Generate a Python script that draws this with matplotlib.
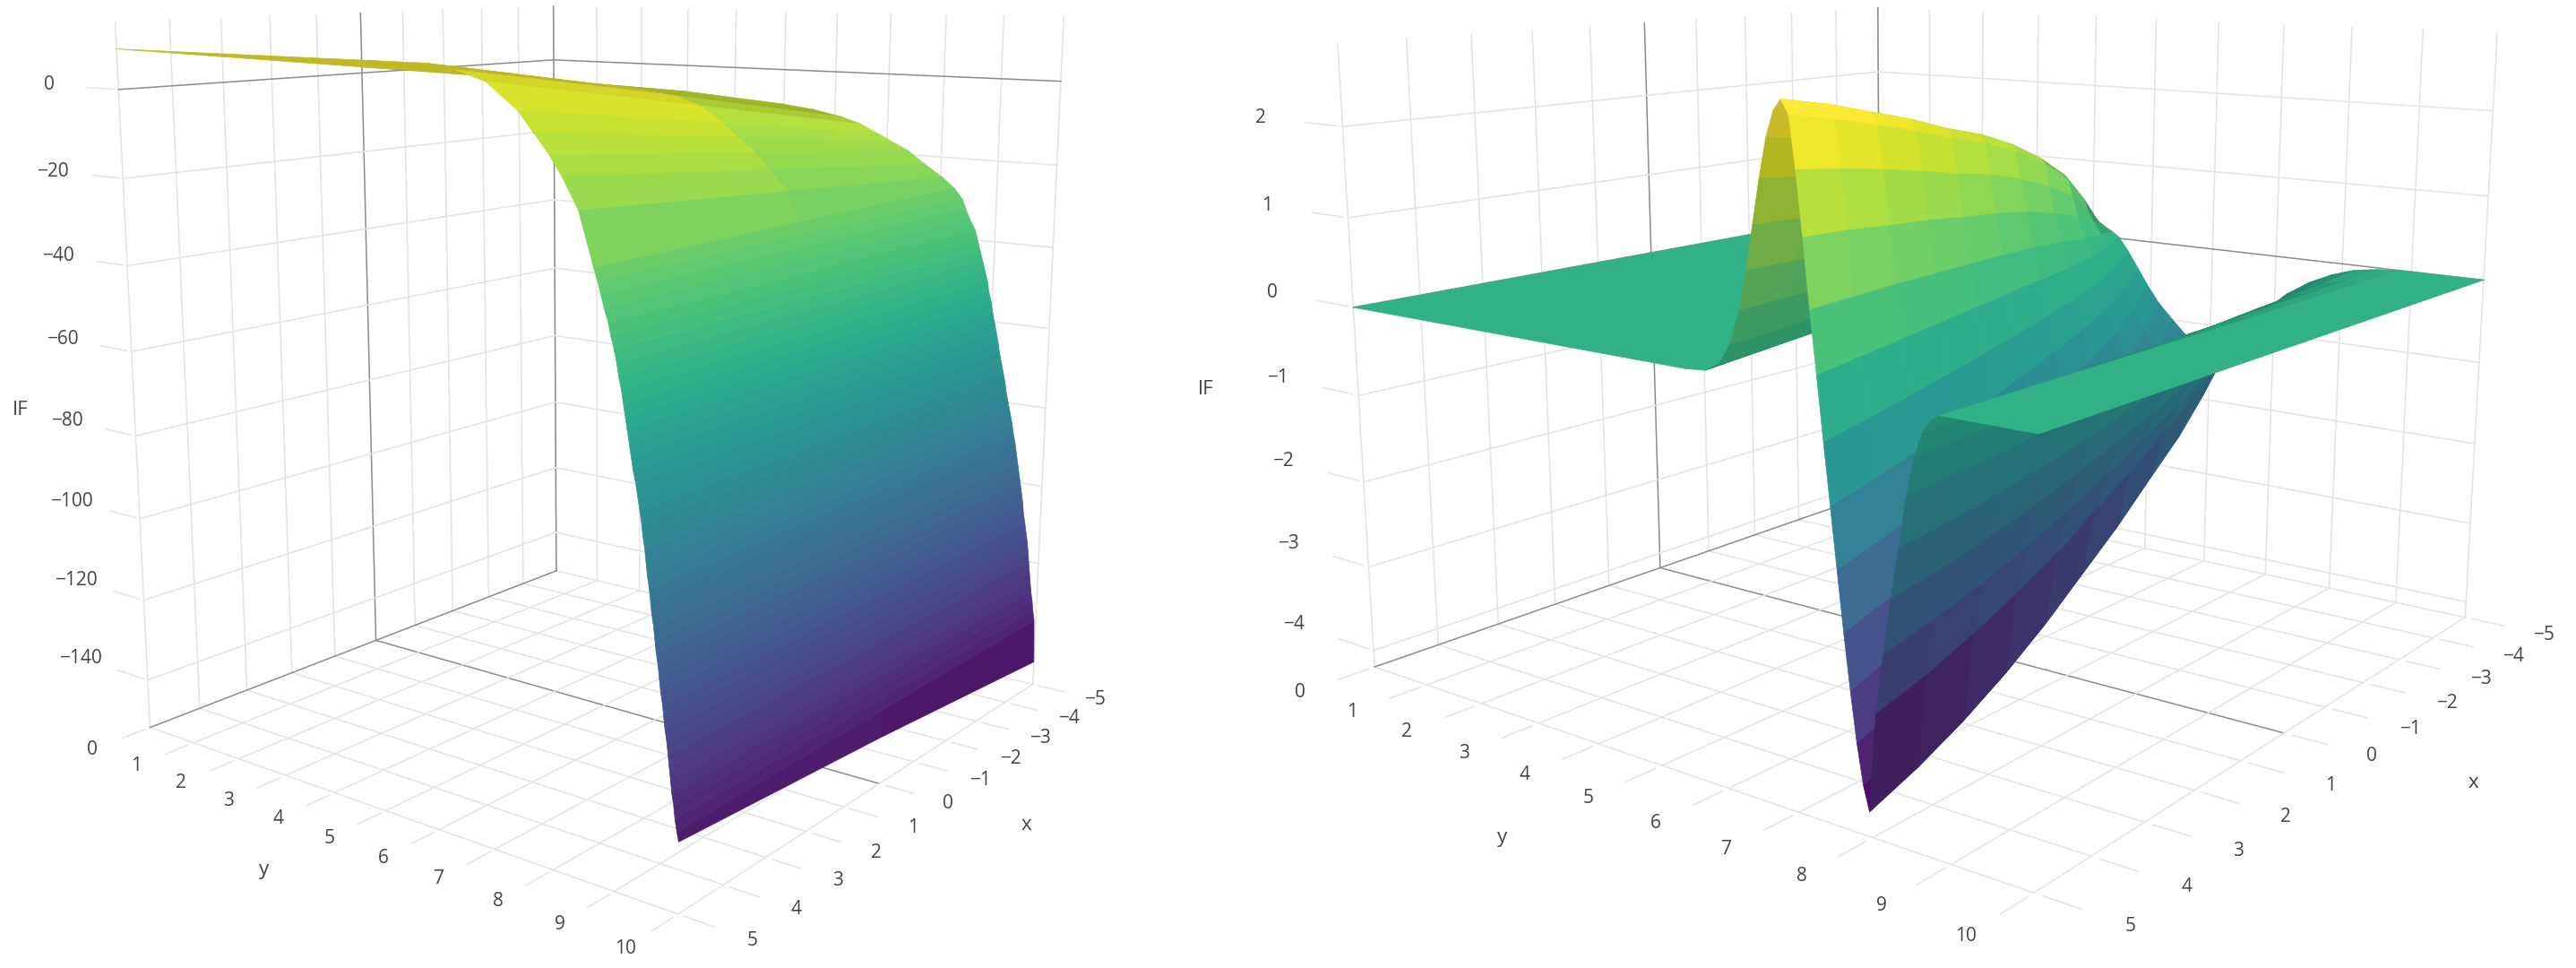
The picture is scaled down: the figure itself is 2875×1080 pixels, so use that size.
import numpy as np
import matplotlib
matplotlib.use("Agg")
import matplotlib.pyplot as plt

plt.rcParams['font.family'] = ['Open Sans', 'DejaVu Sans']

W, H = 2875, 1080
GRID = '#e4e4e4'
ZERO = '#8c8c8c'
TEXT = '#444444'

x_ticks = [-5, -4, -3, -2, -1, 0, 1, 2, 3, 4, 5]
y_ticks = [0, 1, 2, 3, 4, 5, 6, 7, 8, 9, 10]

# left surface: each row runs along x=5, 0, -5 and follows a height contour once the sheet falls away
left_x = [5, 0, -5]
left_y = [
    [0, 0, 0], [3, 3, 3], [5, 5, 5], [6.0, 5.7, 5.6], [6.5, 6.3, 6.15], [7.0, 6.75, 6.5], [7.5, 7.15, 6.8],
    [7.75, 7.4, 7.1], [8.0, 7.7, 7.4], [8.2, 7.95, 7.7], [8.45, 8.25, 8.03], [8.68, 8.46, 8.25],
    [8.74, 8.57, 8.4], [8.79, 8.63, 8.47], [8.84, 8.7, 8.55], [8.9, 8.78, 8.65], [8.94, 8.82, 8.7],
    [8.99, 8.87, 8.75], [9.03, 8.92, 8.8], [9.06, 8.96, 8.85], [9.1, 9.0, 8.9], [9.13, 9.03, 8.93],
    [9.16, 9.07, 8.98], [9.19, 9.1, 9.01], [9.22, 9.14, 9.05], [9.25, 9.17, 9.09], [9.28, 9.2, 9.13],
    [9.32, 9.24, 9.16], [9.35, 9.27, 9.2], [9.38, 9.31, 9.24], [9.41, 9.34, 9.28], [9.43, 9.37, 9.31],
    [9.46, 9.4, 9.35], [9.48, 9.43, 9.39], [9.5, 9.46, 9.43], [9.53, 9.49, 9.46], [9.55, 9.52, 9.5],
    [9.57, 9.55, 9.53], [9.6, 9.58, 9.56], [9.62, 9.6, 9.59], [9.64, 9.63, 9.62], [9.67, 9.66, 9.65],
    [9.69, 9.68, 9.68], [9.71, 9.7, 9.7], [9.74, 9.73, 9.73], [9.76, 9.76, 9.76], [9.78, 9.78, 9.79],
    [9.81, 9.81, 9.81], [9.83, 9.83, 9.83], [9.85, 9.85, 9.85], [9.87, 9.87, 9.87], [9.89, 9.89, 9.89],
    [9.92, 9.92, 9.92], [9.94, 9.94, 9.94], [9.97, 9.97, 9.97], [10, 10, 10],
]
left_z = [
    [9, 1.5, -6], [9, 1, -7], [9, 0, -9], [9, -0.5, -10], [8, -1.5, -11.5], [6, -3.5, -13], [1, -7, -15],
    [-3, -10, -17], [-7, -13, -19], [-11, -16.5, -22], [-17, -21, -25], [-27.5, -27.5, -27.5],
    [-30, -30, -30], [-32.5, -32.5, -32.5], [-35, -35, -35], [-37.5, -37.5, -37.5], [-40, -40, -40],
    [-42.5, -42.5, -42.5], [-45, -45, -45], [-47.5, -47.5, -47.5], [-50, -50, -50], [-52.5, -52.5, -52.5],
    [-55, -55, -55], [-57.5, -57.5, -57.5], [-60, -60, -60], [-62.5, -62.5, -62.5], [-65, -65, -65],
    [-67.5, -67.5, -67.5], [-70, -70, -70], [-72.5, -72.5, -72.5], [-75, -75, -75], [-77.5, -77.5, -77.5],
    [-80, -80, -80], [-82.5, -82.5, -82.5], [-85, -85, -85], [-87.5, -87.5, -87.5], [-90, -90, -90],
    [-92.5, -92.5, -92.5], [-95, -95, -95], [-97.5, -97.5, -97.5], [-100, -100, -100], [-102.5, -102.5, -102.5],
    [-105, -105, -105], [-107.5, -107.5, -107.5], [-110, -110, -110], [-112.5, -112.5, -112.5], [-115, -115, -115],
    [-117.5, -117.5, -117.5], [-120, -120, -120], [-122.5, -122.5, -122.5], [-125, -125, -125],
    [-127.5, -127.5, -127.5], [-130, -130, -130], [-132.5, -132.5, -132.5], [-135, -135, -135], [-137, -141, -146],
]
left_z_ticks = [-140, -120, -100, -80, -60, -40, -20, 0]

# right surface, the wave sits at lower y as x falls
right_x = [5, 4, 3, 2, 1, 0, -1, -2, -3, -4, -5]
right_y_shift = [0, 0.25, 0.5, 0.75, 1.0, 1.25, 1.5, 1.75, 2.05, 2.45, 2.9]
right_y = [0, 2.5, 5.5, 5.8, 6.0, 6.15, 6.3, 6.4, 6.5, 6.6, 6.7, 6.8, 6.9,
           7.0, 7.08, 7.16, 7.24, 7.32, 7.4, 7.48, 7.56, 7.64, 7.72, 7.8, 7.88, 7.96,
           8.05, 8.15, 8.25, 8.35, 8.45, 8.55, 8.65, 8.75, 8.85, 10]
right_y_slant = [0, 0.3, 0.6, 0.7, 0.76, 0.8, 0.84, 0.86, 0.88, 0.91, 0.94, 0.97, 1.0,
                 1.02, 1.03, 1.02, 1.0, 0.99, 0.96, 0.93, 0.9, 0.86, 0.81, 0.76, 0.71, 0.6,
                 0.55, 0.5, 0.45, 0.4, 0.32, 0.24, 0.16, 0.08, 0, 0]
right_z = [
    [0, 0, 0, 0, 0, 0, 0, 0, 0, 0, 0],
    [0, 0, 0, 0, 0, 0, 0, 0, 0, 0, 0],
    [0, 0, 0, 0, 0, 0, 0, 0, 0, 0, 0],
    [.02, .02, .02, .02, .02, .01, .01, .01, .01, .01, 0],
    [.11, .10, .10, .09, .08, .08, .07, .06, .04, .03, .01],
    [.31, .29, .28, .26, .24, .22, .19, .16, .12, .08, .03],
    [.66, .63, .59, .55, .50, .46, .41, .34, .26, .17, .07],
    [1.05, 1.00, .93, .87, .80, .74, .65, .55, .42, .26, .11],
    [1.49, 1.42, 1.33, 1.24, 1.13, 1.04, .92, .77, .60, .37, .15],
    [1.93, 1.83, 1.72, 1.60, 1.47, 1.35, 1.20, 1.00, .77, .48, .19],
    [2.31, 2.19, 2.06, 1.92, 1.76, 1.62, 1.43, 1.20, .92, .58, .23],
    [2.55, 2.42, 2.27, 2.12, 1.94, 1.79, 1.58, 1.33, 1.02, .64, .26],
    [2.66, 2.53, 2.37, 2.21, 2.02, 1.86, 1.65, 1.38, 1.06, .67, .27],
    [2.53, 2.40, 2.25, 2.10, 1.92, 1.77, 1.57, 1.32, 1.01, .63, .25],
    [2.04, 1.94, 1.82, 1.69, 1.55, 1.43, 1.26, 1.06, .82, .51, .20],
    [1.43, 1.36, 1.27, 1.19, 1.09, 1.00, .89, .74, .57, .36, .14],
    [.77, .73, .69, .64, .59, .54, .48, .40, .31, .19, .08],
    [.17, .16, .15, .14, .13, .12, .11, .09, .07, .04, .02],
    [-.45, -.44, -.42, -.40, -.37, -.34, -.30, -.26, -.23, -.19, -.16],
    [-1.05, -1.02, -.98, -.93, -.86, -.78, -.70, -.61, -.53, -.45, -.37],
    [-1.65, -1.61, -1.55, -1.46, -1.36, -1.23, -1.11, -.96, -.83, -.71, -.58],
    [-2.25, -2.19, -2.11, -1.99, -1.85, -1.68, -1.51, -1.31, -1.14, -.97, -.80],
    [-2.80, -2.73, -2.62, -2.48, -2.30, -2.09, -1.88, -1.63, -1.42, -1.20, -.99],
    [-3.30, -3.22, -3.09, -2.92, -2.72, -2.47, -2.21, -1.92, -1.67, -1.42, -1.17],
    [-3.70, -3.61, -3.47, -3.28, -3.05, -2.76, -2.48, -2.15, -1.87, -1.59, -1.31],
    [-3.95, -3.85, -3.70, -3.50, -3.25, -2.95, -2.65, -2.30, -2.00, -1.70, -1.40],
    [-2.95, -2.88, -2.76, -2.61, -2.43, -2.20, -1.98, -1.72, -1.49, -1.27, -1.04],
    [-2.35, -2.29, -2.20, -2.08, -1.93, -1.76, -1.58, -1.37, -1.19, -1.01, -.83],
    [-1.80, -1.76, -1.69, -1.59, -1.48, -1.34, -1.21, -1.05, -.91, -.77, -.64],
    [-1.30, -1.27, -1.22, -1.15, -1.07, -.97, -.87, -.76, -.66, -.56, -.46],
    [-.80, -.78, -.75, -.71, -.66, -.60, -.54, -.47, -.40, -.34, -.28],
    [-.42, -.41, -.39, -.37, -.35, -.31, -.28, -.24, -.21, -.18, -.15],
    [-.18, -.18, -.17, -.16, -.15, -.13, -.12, -.10, -.09, -.08, -.06],
    [-.06, -.06, -.06, -.05, -.05, -.04, -.04, -.03, -.03, -.03, -.02],
    [0, 0, 0, 0, 0, 0, 0, 0, 0, 0, 0],
    [0, 0, 0, 0, 0, 0, 0, 0, 0, 0, 0],
]
right_z_ticks = [-4, -3, -2, -1, 0, 1, 2]


def facet_colors(X, Y, Z, zlim, crange, eye, zasp):
    # colour by height, a bit lighter in general, darker the more the cell turns away from the eye
    px = (X + 5) / 10
    py = Y / 10
    pz = zasp * (Z - zlim[0]) / (zlim[1] - zlim[0])
    d1 = np.stack([px[1:, 1:] - px[:-1, :-1], py[1:, 1:] - py[:-1, :-1], pz[1:, 1:] - pz[:-1, :-1]], -1)
    d2 = np.stack([px[1:, :-1] - px[:-1, 1:], py[1:, :-1] - py[:-1, 1:], pz[1:, :-1] - pz[:-1, 1:]], -1)
    n = np.cross(d1, d2)
    n[n[..., 2] < 0] *= -1
    n /= np.linalg.norm(n, axis=-1, keepdims=True)
    centre = np.stack([(px[1:, 1:] + px[:-1, :-1]) / 2, (py[1:, 1:] + py[:-1, :-1]) / 2,
                       (pz[1:, 1:] + pz[:-1, :-1]) / 2], -1)
    view = np.array(eye) - centre
    view /= np.linalg.norm(view, axis=-1, keepdims=True)
    facing = (view * n).sum(-1)
    zmid = (Z[1:, 1:] + Z[:-1, :-1] + Z[1:, :-1] + Z[:-1, 1:]) / 4
    rgba = plt.cm.viridis((zmid - crange[0]) / (crange[1] - crange[0]))
    lit = rgba[..., :3] + 0.12 * rgba[..., :3].mean(-1, keepdims=True) * (1 - rgba[..., :3])
    dark = 1 - 0.2 * np.clip((0.16 - facing) / 0.1, 0, 1)
    rgba[..., :3] = lit * dark[..., None]
    return rgba


def draw_panel(centre, size, elev, azim, focal, zasp, X, Y, Z, zlim, crange, wall_top, z_ticks, z_rot, if_y, if_z):
    rect = [(centre[0] - size / 2) / W, (H - centre[1] - size / 2) / H, size / W, size / H]
    ax = fig.add_axes(rect, projection='3d', computed_zorder=False)
    ax.set_proj_type('persp', focal_length=focal)
    ax.set_box_aspect((1, 1, zasp))
    ax.view_init(elev=elev, azim=azim)
    ax.set_xlim(-5, 5, view_margin=0)
    ax.set_ylim(0, 10, view_margin=0)
    ax.set_zlim(zlim[0], zlim[1], view_margin=0)
    ax.set_axis_off()
    ax.patch.set_alpha(0)

    z0 = zlim[0]
    for v in x_ticks:
        c = ZERO if v == 0 else GRID
        ax.plot([v, v], [0, 10], [z0, z0], color=c, lw=1.1, zorder=1)
        ax.plot([v, v], [0, 0], [z0, wall_top], color=c, lw=1.1, zorder=1)
        ax.plot([v, v], [10.1, 10.55], [z0, z0], color=GRID, lw=1.1, zorder=1)
    for v in y_ticks:
        c = ZERO if v == 0 else GRID
        ax.plot([-5, 5], [v, v], [z0, z0], color=c, lw=1.1, zorder=1)
        ax.plot([-5, -5], [v, v], [z0, wall_top], color=c, lw=1.1, zorder=1)
        ax.plot([5.1, 5.55], [v, v], [z0, z0], color=GRID, lw=1.1, zorder=1)
    for v in z_ticks:
        c = ZERO if v == 0 else GRID
        ax.plot([-5, 5], [0, 0], [v, v], color=c, lw=1.1, zorder=1)
        ax.plot([-5, -5], [0, 10], [v, v], color=c, lw=1.1, zorder=1)
        ax.plot([5, 5], [-0.1, -0.7], [v, v], color=GRID, lw=1.1, zorder=1)

    side = 1.8294640721620434 * 25 / 24 / np.linalg.norm((1, 1, zasp))
    eye_dist = 10 * focal / side
    el, az = np.radians(elev), np.radians(azim)
    eye = (0.5 + eye_dist * np.cos(el) * np.cos(az), 0.5 + eye_dist * np.cos(el) * np.sin(az),
           zasp / 2 + eye_dist * np.sin(el))
    ax.plot_surface(X, Y, Z, facecolors=facet_colors(X, Y, Z, zlim, crange, eye, zasp), rstride=1, cstride=1,
                    shade=False, linewidth=0.5, antialiased=True, zorder=2)

    fs = 15
    for i, v in enumerate(y_ticks):
        ax.text(6.1, v, z0, str(v), color=TEXT, fontsize=fs, ha='center', va='center',
                rotation=12 + 2 * i, zorder=3)
    for i, v in enumerate(x_ticks):
        ax.text(v, 11.1, z0, str(v).replace('-', '\u2212'), color=TEXT, fontsize=fs, ha='center', va='center',
                rotation=-28 + i, zorder=3)
    for i, v in enumerate(z_ticks):
        ax.text(5, -1.6, v, str(v).replace('-', '\u2212'), color=TEXT, fontsize=fs, ha='center', va='center',
                rotation=z_rot * (v - z_ticks[-1]) / (z_ticks[0] - z_ticks[-1]), zorder=3)
    ax.text(7.3, 5, z0, 'y', color=TEXT, fontsize=fs + 1, ha='center', va='center', rotation=-10, zorder=3)
    ax.text(0, 12.3, z0, 'x', color=TEXT, fontsize=fs + 1, ha='center', va='center', rotation=-8, zorder=3)
    ax.text(5, if_y, if_z, 'IF', color=TEXT, fontsize=fs + 1, ha='center', va='center', zorder=3)
    return ax


fig = plt.figure(figsize=(W / 100, H / 100), dpi=100, facecolor='white')

lx = np.tile(left_x, (len(left_y), 1))
draw_panel((657, 426), 1266, 11.8, 37.5, 0.325, 1.1, lx, np.array(left_y), np.array(left_z),
           (-152, 19), (-146, 9), 15, left_z_ticks, 16, -2.8, -80)

rx, ry = np.meshgrid(right_x, right_y)
ry = ry - np.outer(right_y_slant, right_y_shift)
draw_panel((2144, 408), 1397, 12.1, 37.5, 0.312, 0.77, rx, ry, np.array(right_z),
           (-4.2, 2.9), (-3.95, 2.42), 2.9, right_z_ticks, 16, -3.2, -1.35)

fig.savefig('out.png', dpi=100)
